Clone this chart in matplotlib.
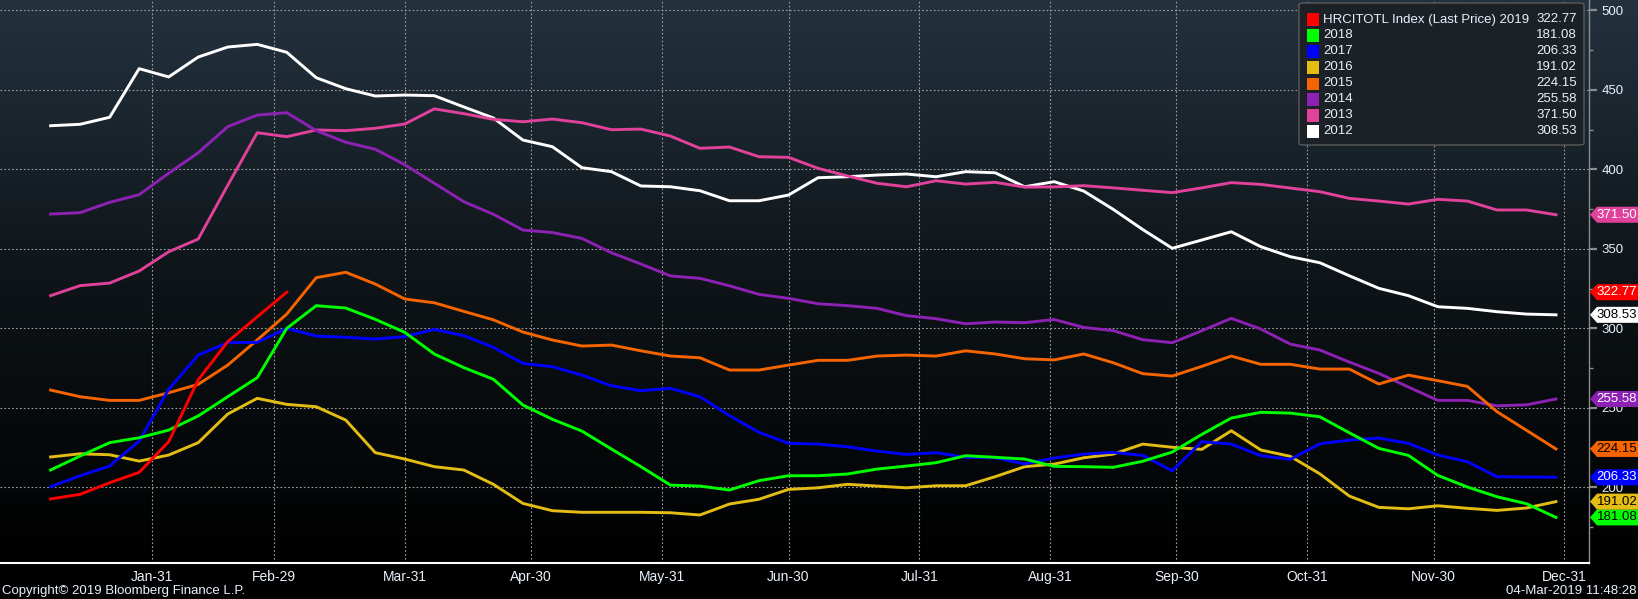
import numpy as np
import pandas as pd
import matplotlib
matplotlib.use("Agg")
import matplotlib.pyplot as plt
import matplotlib.transforms as mtransforms
from matplotlib.colors import LinearSegmentedColormap
from matplotlib.patches import Polygon, Rectangle, FancyBboxPatch

plt.rcParams['font.family'] = ['Liberation Sans', 'DejaVu Sans']

W, H = 1638, 599
TXT = '#e8f0fa'

# weekly points, mapped onto one (leap) year
dates = pd.date_range('2020-01-07', periods=52, freq='7D')
monthEnds = pd.date_range('2020-01-31', periods=12, freq='ME')

hrc2019 = [192.7, 195.6, 202.9, 209.4, 228.7, 267.6, 291.6, 307.3, 322.77]
hrc2018 = [210.9, 219.7, 228.1, 231.2, 236.0, 244.9, 257.0, 269.0, 300.0, 314.3, 312.8, 305.7, 297.5,
           283.9, 275.3, 268.0, 251.8, 242.8, 235.4, 224.1, 213.0, 201.4, 200.8, 198.3, 204.2, 207.3,
           207.3, 208.4, 211.5, 213.4, 215.5, 219.9, 218.9, 217.8, 213.2, 213.0, 212.6, 216.4, 222.2,
           233.3, 243.6, 247.2, 246.7, 244.4, 234.3, 224.5, 220.1, 207.5, 200.2, 194.1, 189.7, 181.08]
hrc2017 = [200.4, 207.3, 213.4, 229.1, 261.7, 283.2, 291.0, 291.2, 300.0, 295.2, 294.4, 293.3, 294.8,
           299.4, 295.4, 288.1, 278.0, 275.9, 270.6, 263.9, 260.8, 262.3, 257.0, 245.1, 234.6, 227.7,
           227.2, 225.5, 222.8, 220.7, 221.8, 218.9, 218.6, 214.7, 218.5, 220.9, 222.0, 220.1, 210.4,
           228.7, 227.2, 219.9, 217.6, 227.4, 229.7, 231.0, 227.7, 220.3, 216.1, 206.7, 206.5, 206.33]
hrc2016 = [219.1, 221.1, 220.5, 216.5, 220.3, 228.1, 246.1, 256.0, 252.2, 250.7, 242.3, 221.8, 217.8,
           213.0, 210.9, 201.9, 189.9, 185.3, 184.3, 184.3, 184.3, 184.0, 182.6, 189.5, 192.5, 198.7,
           199.7, 201.9, 200.8, 199.7, 201.0, 201.0, 206.7, 213.0, 214.6, 218.6, 220.9, 227.2, 225.2,
           223.9, 235.6, 223.5, 219.5, 208.5, 194.5, 187.4, 186.5, 188.4, 186.8, 185.5, 187.0, 191.02]
hrc2015 = [261.2, 257.0, 254.7, 254.7, 259.5, 264.8, 276.9, 292.7, 309.0, 331.9, 335.3, 327.9, 318.5,
           316.1, 310.7, 305.4, 297.7, 292.7, 288.9, 289.5, 285.9, 282.6, 281.5, 273.8, 273.8, 276.9,
           279.9, 279.9, 282.6, 283.2, 282.6, 285.9, 283.9, 280.9, 280.2, 283.9, 278.4, 271.5, 270.0,
           276.1, 282.6, 277.4, 277.4, 274.4, 274.4, 265.0, 270.6, 267.1, 263.5, 247.6, 235.9, 224.15]
hrc2014 = [371.9, 372.8, 379.3, 384.1, 397.6, 410.5, 426.9, 434.2, 435.7, 424.4, 417.1, 412.7, 403.0,
           391.3, 379.7, 371.8, 361.9, 360.3, 356.6, 347.6, 340.5, 333.0, 331.5, 326.8, 321.4, 318.9,
           315.5, 314.3, 312.6, 308.0, 306.1, 302.9, 304.0, 303.6, 305.6, 300.6, 298.6, 292.9, 291.0,
           298.5, 306.3, 299.6, 290.1, 286.4, 278.8, 271.7, 263.1, 254.7, 254.7, 251.3, 251.9, 255.58]
hrc2013 = [320.6, 326.9, 328.5, 336.1, 348.2, 356.2, 390.0, 423.1, 420.6, 424.8, 424.4, 425.9, 428.6,
           438.1, 435.1, 431.5, 430.0, 431.7, 429.4, 425.0, 425.4, 421.0, 413.3, 414.1, 408.0, 407.6,
           400.7, 395.9, 391.3, 389.1, 392.9, 390.8, 391.9, 388.9, 389.0, 389.8, 388.4, 386.9, 385.4,
           388.4, 391.7, 390.6, 388.3, 386.0, 381.8, 380.1, 378.2, 381.2, 380.1, 374.5, 374.5, 371.50]
hrc2012 = [427.5, 428.4, 432.8, 463.4, 458.2, 470.7, 477.0, 478.7, 473.7, 457.7, 450.8, 446.2, 446.8,
           446.4, 439.3, 432.4, 418.5, 414.3, 401.1, 398.6, 389.6, 389.1, 386.6, 380.3, 380.3, 383.9,
           394.8, 395.4, 396.5, 397.1, 395.4, 398.6, 397.9, 389.1, 392.3, 386.4, 374.9, 362.2, 350.4,
           355.6, 360.8, 351.4, 345.1, 341.3, 333.1, 325.2, 320.6, 313.6, 312.6, 310.5, 309.0, 308.53]

labels = ['HRCITOTL Index (Last Price) 2019', '2018', '2017', '2016', '2015', '2014', '2013', '2012']
values = [hrc2019, hrc2018, hrc2017, hrc2016, hrc2015, hrc2014, hrc2013, hrc2012]
colors = ['#ff0000', '#00ff00', '#0000ff', '#e3bd14', '#f66400', '#8c21b4', '#e0419a', '#ffffff']
tagText = ['white', 'black', 'white', 'black', 'black', 'white', 'white', 'black']

fig = plt.figure(figsize=(W / 100, H / 100), dpi=100, facecolor='black')

# background gradient (dark slate -> black)
bottom = (H - 563) / H
axBg = fig.add_axes([0, bottom, 1, 1 - bottom])
grad = np.linspace(1, 0, 256).reshape(-1, 1)
cmap = LinearSegmentedColormap.from_list('bbg', ['#000000', '#0e1418', '#24323e'])
axBg.imshow(grad, aspect='auto', cmap=cmap, extent=[0, 1, 0, 1])
axBg.axis('off')

ax = fig.add_axes([0, bottom, 1589 / W, 1 - bottom])
ax.set_facecolor('none')

for i in range(len(values) - 1, -1, -1):
    v = values[i]
    ax.plot(dates[:len(v)], v, color=colors[i], lw=2.1, solid_joinstyle='round', zorder=3)

ax.set_xlim(pd.Timestamp('2019-12-26'), pd.Timestamp('2021-01-05 20:00'))
ax.set_ylim(152.4, 506.6)

ax.set_xticks(monthEnds)
ax.set_xticklabels([d.strftime('%b-%d') for d in monthEnds])
ax.set_yticks(np.arange(200, 501, 50))
ax.set_yticks(np.arange(175, 501, 50), minor=True)
ax.yaxis.tick_right()

ax.tick_params(axis='x', length=0, labelcolor=TXT, labelsize=10, pad=5)
ax.tick_params(axis='y', which='major', colors='#8c8c8c', labelcolor=TXT, length=6, width=1.6,
               pad=3, labelsize=9.5)
ax.tick_params(axis='y', which='minor', colors='#8c8c8c', length=3, width=1)

ax.grid(True, which='major', color='#a0a0a0', linestyle=(0, (1.5, 2)), linewidth=0.8)
ax.set_axisbelow(True)

for s in ['top', 'left']:
    ax.spines[s].set_visible(False)
ax.spines['bottom'].set_color('white')
ax.spines['bottom'].set_linewidth(1.5)
ax.spines['right'].set_color('#8c8c8c')
ax.spines['right'].set_linewidth(1)

# last-price tags on the right axis
trans = mtransforms.blended_transform_factory(ax.transAxes, ax.transData)
aw = 1589.0
x0, x1, x2 = 1590 / aw, 1597 / aw, 1638 / aw
hh = 8 / 1.5893
for i in range(len(values)):
    last = values[i][-1]
    pts = [(x0, last), (x1, last + hh), (x2, last + hh), (x2, last - hh), (x1, last - hh)]
    ax.add_patch(Polygon(pts, closed=True, transform=trans, facecolor=colors[i],
                         edgecolor='none', clip_on=False, zorder=6))
    ax.text(1617 / aw, last, '%.2f' % last, transform=trans, color=tagText[i], fontsize=9.5,
            ha='center', va='center', clip_on=False, zorder=7)

# legend box
def fx(x):
    return x / W

def fy(y):
    return 1 - y / H

fig.patches.append(FancyBboxPatch((fx(1299), fy(145)), fx(1584) - fx(1299), fy(3) - fy(145),
                                  boxstyle='round,pad=0,rounding_size=0.003',
                                  transform=fig.transFigure, facecolor='#1b2127',
                                  edgecolor='#5a5a5a', linewidth=1, zorder=8))
for k in range(len(labels)):
    yc = 19.5 + 16 * k
    fig.patches.append(Rectangle((fx(1307), fy(yc + 6)), fx(12), 12 / H, transform=fig.transFigure,
                                 facecolor=colors[k], edgecolor='none', zorder=9))
    fig.text(fx(1323), fy(yc), labels[k], color=TXT, fontsize=9.5, ha='left', va='center', zorder=10)
    fig.text(fx(1577), fy(yc), '%.2f' % values[k][-1], color=TXT, fontsize=9.5, ha='right',
             va='center', zorder=10)

fig.text(fx(2), fy(591), 'Copyright\u00a9 2019 Bloomberg Finance L.P.', color=TXT, fontsize=9.5,
         ha='left', va='center')
fig.text(fx(1636), fy(591), '04-Mar-2019 11:48:28', color=TXT, fontsize=9.5, ha='right', va='center')

fig.savefig('out.png', dpi=100, facecolor='black')
